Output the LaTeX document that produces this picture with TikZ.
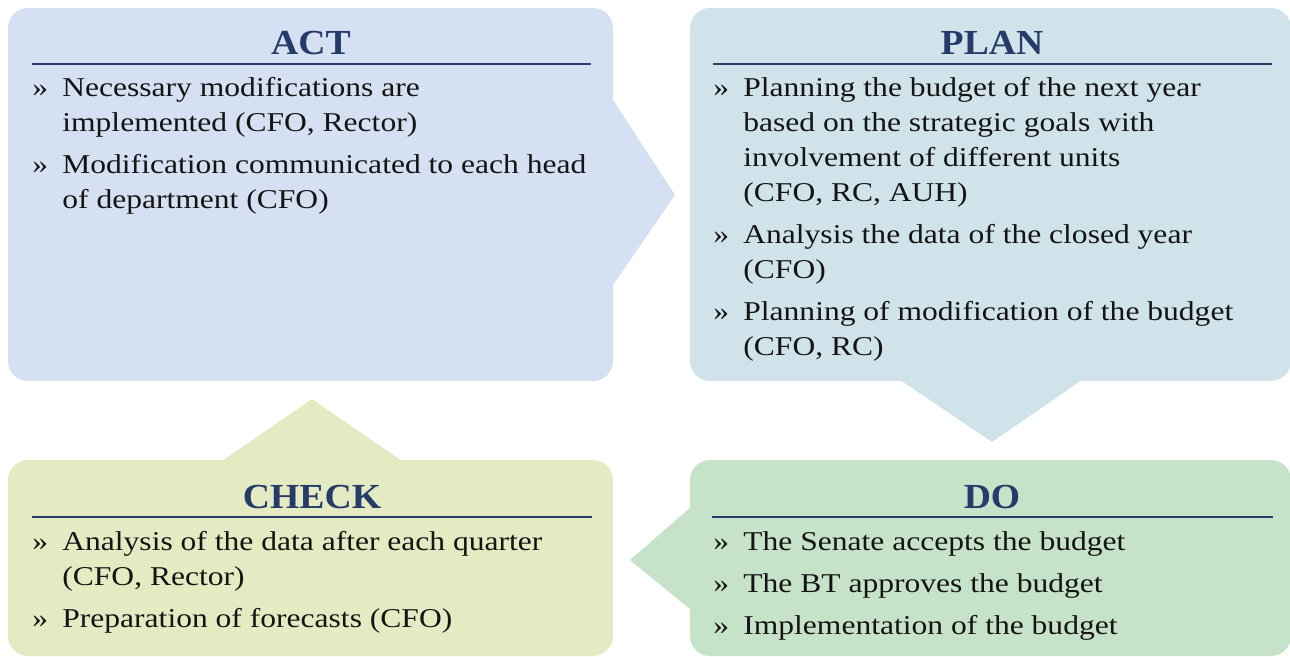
\documentclass[tikz,border=0pt]{standalone}
\usepackage{fontspec}
\setmainfont{Liberation Serif}[FakeStretch=1.16]
\newfontfamily\headfont{Liberation Serif}[FakeStretch=1.07]
\usetikzlibrary {positioning}
\definecolor{actC}{HTML}{D5E0F2}
\definecolor{planC}{HTML}{D0E3EA}
\definecolor{doC}{HTML}{C6E2C8}
\definecolor{checkC}{HTML}{E4EAC2}
\definecolor{headC}{HTML}{253C6A}
\definecolor{textC}{HTML}{141414}
\tikzset{
boxA/.style={rectangle,rounded corners=10pt,minimum width=302.5pt,minimum height=186.5pt,inner sep=0pt}
}
\tikzset{
boxB/.style={rectangle,rounded corners=10pt,minimum width=300.5pt,minimum height=98pt,inner sep=0pt}
}
\tikzset{
headA/.style={font=\headfont\fontsize{17.6}{20}\selectfont\bfseries,text=headC,anchor=base,inner sep=0pt}
}
\tikzset{
listA/.style={font=\fontsize{13.6}{17.5}\selectfont,text=textC,anchor=base west,inner sep=0pt}
}
\tikzset{
ruleA/.style={draw=headC,line width=1pt}
}

\begin{document}
\begin{tikzpicture}[x=0.5pt,y=-0.5pt]
\useasboundingbox (0,0) rectangle (1290,657);

%------------------------------------------------------------------------------------------------------------%
\fill[actC] (613,100) -- (675,195) -- (613,285) -- cycle;
\node[boxA,fill=actC] (act) at (310.5,194.5) {};
\node[headA] (actT) at (311,55) {ACT};
\draw[ruleA] (32,64) -- (591,64);
\node[listA] (actL) at (32,97) {\begin{tabular}[t]{@{}p{15pt}@{}l@{}}
» & Necessary modifications are\\
  & implemented (CFO, Rector)\\[3.5pt]
» & Modification communicated to each head\\
  & of department (CFO)
\end{tabular}};
%------------------------------------------------------------------------------------------------------------%
\fill[planC] (900,380) -- (992,442) -- (1082,380) -- cycle;
\node[boxA,fill=planC,minimum width=300.5pt] (plan) at (990.5,194.5) {};
\node[headA] (planT) at (992,55) {PLAN};
\draw[ruleA] (713,64) -- (1272,64);
\node[listA] (planL) at (713,97) {\begin{tabular}[t]{@{}p{15pt}@{}l@{}}
» & Planning the budget of the next year\\
  & based on the strategic goals with\\
  & involvement of different units\\
  & (CFO, RC, AUH)\\[3.5pt]
» & Analysis the data of the closed year\\
  & (CFO)\\[3.5pt]
» & Planning of modification of the budget\\
  & (CFO, RC)
\end{tabular}};
%------------------------------------------------------------------------------------------------------------%
\fill[doC] (691,507) -- (630,560) -- (691,610) -- cycle;
\node[boxB,fill=doC] (do) at (990.5,558) {};
\node[headA] (doT) at (992,508) {DO};
\draw[ruleA] (712,517) -- (1273,517);
\node[listA] (doL) at (713,550) {\begin{tabular}[t]{@{}p{15pt}@{}l@{}}
» & The Senate accepts the budget\\[3.5pt]
» & The BT approves the budget\\[3.5pt]
» & Implementation of the budget
\end{tabular}};
%------------------------------------------------------------------------------------------------------------%
\fill[checkC] (222,461) -- (312,399) -- (402,461) -- cycle;
\node[boxB,fill=checkC,minimum width=302.5pt] (check) at (310.5,558) {};
\node[headA] (checkT) at (312,508) {CHECK};
\draw[ruleA] (32,517) -- (592,517);
\node[listA] (checkL) at (32,550) {\begin{tabular}[t]{@{}p{15pt}@{}l@{}}
» & Analysis of the data after each quarter\\
  & (CFO, Rector)\\[3.5pt]
» & Preparation of forecasts (CFO)
\end{tabular}};

\end{tikzpicture}
\end{document}
